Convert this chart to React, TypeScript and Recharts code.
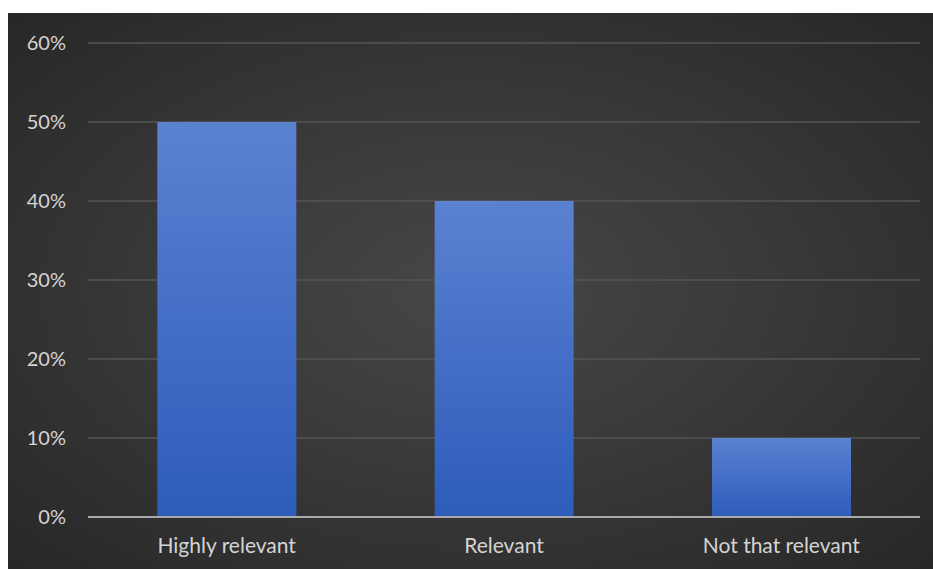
import React from "react";
import { BarChart, Bar, XAxis, YAxis, CartesianGrid } from "recharts";

const categories = ["Highly relevant", "Relevant", "Not that relevant"];
const shares = [50, 40, 10];
const yTicks = [0, 10, 20, 30, 40, 50, 60];

const data = categories.map((name, i) => ({ name, value: shares[i] }));

export default function App() {
  return (
    <div
      style={{
        position: "absolute",
        left: 8,
        top: 13,
        width: 925,
        height: 556,
        background:
          "radial-gradient(ellipse farthest-corner at 50% 50%, #474747 0%, #3b3b3b 40%, #272727 100%)",
        overflow: "hidden",
      }}
    >
      <style>{"body{overflow:hidden}"}</style>
      <BarChart
        width={925}
        height={556}
        data={data}
        margin={{ top: 30, right: 13, left: 0, bottom: 0 }}
        barCategoryGap="25%"
      >
        <defs>
          <linearGradient id="barGrad" x1="0" y1="0" x2="0" y2="1">
            <stop offset="0%" stopColor="#5b81d1" />
            <stop offset="100%" stopColor="#2d5cba" />
          </linearGradient>
        </defs>
        <CartesianGrid vertical={false} stroke="#545454" strokeWidth={1.5} />
        <XAxis
          dataKey="name"
          height={52}
          tickSize={0}
          tickMargin={21}
          axisLine={{ stroke: "#a9a9a9", strokeWidth: 2 }}
          tickLine={false}
          tick={{ fill: "#d4d4d4", fontSize: 21, fontFamily: "Lato" }}
        />
        <YAxis
          width={80}
          domain={[0, 60]}
          ticks={yTicks}
          interval={0}
          tickFormatter={(v: number) => `${v}%`}
          axisLine={false}
          tickLine={false}
          tickSize={0}
          tickMargin={22}
          tick={{ fill: "#d4d4d4", fontSize: 20, fontFamily: "Lato" }}
        />
        <Bar dataKey="value" fill="url(#barGrad)" isAnimationActive={false} />
      </BarChart>
    </div>
  );
}
